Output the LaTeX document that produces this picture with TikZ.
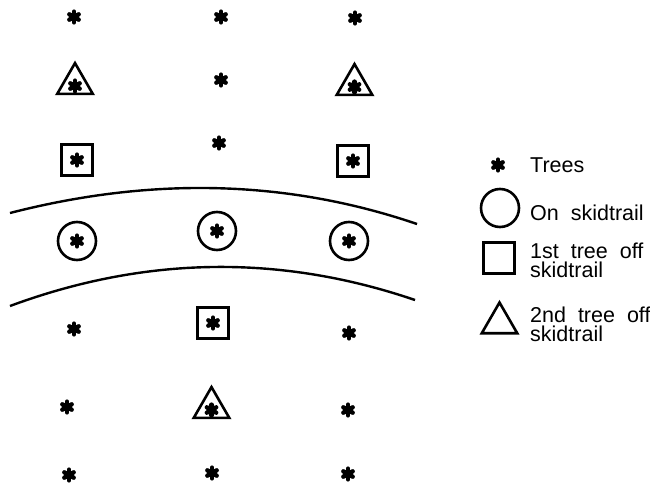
\documentclass[tikz,border=0pt]{standalone}
\usepackage{fontspec}
\setmainfont{Liberation Sans}
\newfontfamily\legendfont[WordSpace=2]{Liberation Sans}
\usetikzlibrary{shapes.geometric}

\tikzset{
  tree/.style={circle, minimum size=16pt, inner sep=0pt, outer sep=0pt},
  starline/.style={line width=4.4pt, line cap=round},
  onroad/.style={circle, draw, line width=2.6pt, minimum size=38pt, inner sep=0pt},
  firstoff/.style={rectangle, draw, line width=2.6pt, minimum size=31pt, inner sep=0pt},
  secondoff/.style={regular polygon, regular polygon sides=3, draw, line width=2.6pt,
    minimum size=41pt, inner sep=0pt},
  trail/.style={line width=2.4pt},
  legendtext/.style={anchor=base west, inner sep=0pt, align=left,
    font=\legendfont\fontsize{21.5}{19}\selectfont}
}

\begin{document}
\begin{tikzpicture}[x=1pt, y=-1pt]
\useasboundingbox (0,0) rectangle (650,484);

% skidtrail edges
\coordinate (ua) at (10,213);
\coordinate (ub) at (417,224);
\coordinate (la) at (10,306);
\coordinate (lb) at (415,300);
\draw[trail] (ua) .. controls (146,178) and (282,178) .. (ub);
\draw[trail] (la) .. controls (145,256) and (280,254) .. (lb);

% top row
\node[tree] (a1) at (74,17) {};
\node[tree] (a2) at (221,17) {};
\node[tree] (a3) at (355,18) {};

% second row
\node[secondoff] (b1s) at (75,83.6) {};
\node[tree] (b1) at (75,86) {};
\node[tree] (b2) at (221,80) {};
\node[secondoff] (b3s) at (354.5,84.6) {};
\node[tree] (b3) at (354.5,87) {};

% third row
\node[firstoff] (c1s) at (77,160) {};
\node[tree] (c1) at (77,160) {};
\node[tree] (c2) at (219,143) {};
\node[firstoff] (c3s) at (353,161) {};
\node[tree] (c3) at (353,161) {};

% trees on the skidtrail
\node[onroad] (d1s) at (77,241) {};
\node[tree] (d1) at (77,241) {};
\node[onroad] (d2s) at (217,231) {};
\node[tree] (d2) at (217,231) {};
\node[onroad] (d3s) at (349,241) {};
\node[tree] (d3) at (349,241) {};

% fifth row
\node[tree] (e1) at (74,329) {};
\node[firstoff] (e2s) at (213,323) {};
\node[tree] (e2) at (213,323) {};
\node[tree] (e3) at (349,333) {};

% sixth row
\node[tree] (f1) at (67,407) {};
\node[secondoff] (f2s) at (211.5,407.6) {};
\node[tree] (f2) at (211.5,410) {};
\node[tree] (f3) at (348,410) {};

% bottom row
\node[tree] (g1) at (69,475) {};
\node[tree] (g2) at (212,473) {};
\node[tree] (g3) at (348,474) {};

% legend
\node[tree] (k1) at (498,165) {};
\node[legendtext] (k1t) at (530,172) {Trees};
\node[onroad] (k2) at (500,208) {};
\node[legendtext] (k2t) at (530,220) {On skidtrail};
\node[firstoff] (k3) at (499,258) {};
\node[legendtext] (k3t) at (530,277) {1st tree off\\skidtrail};
\node[secondoff] (k4) at (499.5,323) {};
\node[legendtext] (k4t) at (530,341) {2nd tree off\\skidtrail};

% six-armed asterisk marking each tree
\foreach \n in {a1,a2,a3,b1,b2,b3,c1,c2,c3,d1,d2,d3,e1,e2,e3,f1,f2,f3,g1,g2,g3,k1}
  \foreach \ang in {90,30,150}
    \draw[starline] ([shift={(\ang:5.4pt)}]\n.center) -- ([shift={(\ang+180:5.4pt)}]\n.center);
\end{tikzpicture}
\end{document}
